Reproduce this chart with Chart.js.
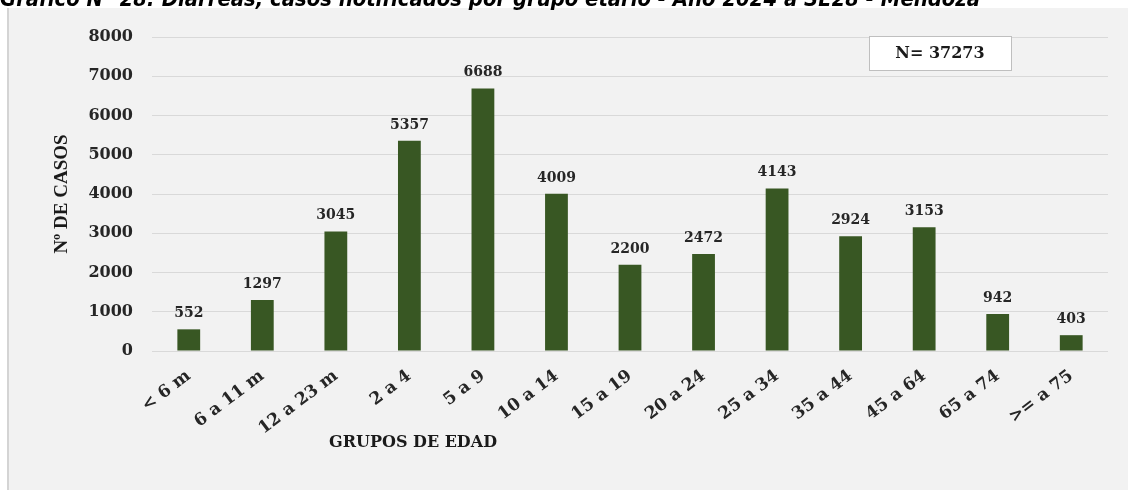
<!DOCTYPE html>
<html>
<head>
<meta charset="utf-8">
<script src="https://cdn.jsdelivr.net/npm/chart.js@4/dist/chart.umd.min.js"></script>
<style>
html,body{margin:0;padding:0;background:#ffffff;}
#wrap{position:relative;width:1128px;height:490px;}
canvas{display:block;}
</style>
</head>
<body>
<div id="wrap"><canvas id="c" width="1128" height="490"></canvas></div>
<script>
const titleText = 'Gráfico N° 28: Diarreas, casos notificados por grupo etario - Año 2024 a SE28 - Mendoza';
const categories = ['< 6 m','6 a 11 m','12 a 23 m','2 a 4','5 a 9','10 a 14','15 a 19','20 a 24','25 a 34','35 a 44','45 a 64','65 a 74','>= a 75'];
const casos = [552,1297,3045,5357,6688,4009,2200,2472,4143,2924,3153,942,403];
const yMin = 0, yMax = 8000, yStep = 1000;
const yTitle = 'Nº DE CASOS';
const xTitle = 'GRUPOS DE EDAD';
const totalLabel = 'N= 37273';

const SERIF = "'DejaVu Serif', 'Liberation Serif', serif";

const decor = {
  id: 'decor',
  beforeDraw(chart) {
    const ctx = chart.ctx;
    ctx.save();
    ctx.fillStyle = '#ffffff';
    ctx.fillRect(0, 0, chart.width, chart.height);
    ctx.fillStyle = '#f2f2f2';
    ctx.fillRect(7, 8, chart.width - 7, chart.height - 8);
    ctx.fillStyle = '#d4d4d4';
    ctx.fillRect(7, 8, 2, chart.height - 8);
    ctx.font = "bold italic 21px 'Liberation Sans Narrow', 'DejaVu Sans Condensed', 'Liberation Sans', sans-serif";
    const w = ctx.measureText(titleText).width;
    const target = 980;
    ctx.translate(0, 6);
    ctx.scale(target / w, 1);
    ctx.fillStyle = '#000000';
    ctx.textBaseline = 'alphabetic';
    ctx.textAlign = 'left';
    ctx.fillText(titleText, 0, 0);
    ctx.restore();
  },
  afterDraw(chart) {
    const ctx = chart.ctx;
    ctx.save();
    const meta = chart.getDatasetMeta(0);
    ctx.font = "bold 14px " + SERIF;
    ctx.fillStyle = '#262626';
    ctx.textAlign = 'center';
    ctx.textBaseline = 'alphabetic';
    meta.data.forEach((bar, i) => {
      ctx.fillText(String(chart.data.datasets[0].data[i]), bar.x, bar.y - 12);
    });
    ctx.font = "bold 16px " + SERIF;
    ctx.fillStyle = '#1a1a1a';
    ctx.textBaseline = 'middle';
    ctx.fillText(xTitle, 413, 443);
    ctx.fillStyle = '#ffffff';
    ctx.fillRect(869, 36, 142, 34);
    ctx.strokeStyle = '#bfbfbf';
    ctx.lineWidth = 1;
    ctx.strokeRect(869.5, 36.5, 142, 34);
    ctx.fillStyle = '#1a1a1a';
    ctx.font = "bold 16px " + SERIF;
    ctx.fillText(totalLabel, 940, 54);
    ctx.restore();
  }
};

new Chart(document.getElementById('c'), {
  type: 'bar',
  data: {
    labels: categories,
    datasets: [{
      data: casos,
      backgroundColor: '#385723',
      borderWidth: 0,
      categoryPercentage: 1.0,
      barPercentage: 0.31
    }]
  },
  options: {
    responsive: false,
    animation: false,
    devicePixelRatio: 1,
    layout: { padding: { top: 37, right: 20, bottom: 0, left: 0 } },
    plugins: { legend: { display: false }, tooltip: { enabled: false }, title: { display: false } },
    scales: {
      x: {
        grid: { display: false },
        border: { display: false },
        ticks: {
          color: '#262626',
          font: { family: SERIF, size: 17, weight: 'bold' },
          minRotation: 37, maxRotation: 37,
          padding: 7,
          autoSkip: false
        },
        afterFit(scale) { scale.height = 139; }
      },
      y: {
        min: yMin, max: yMax,
        grid: { color: '#d9d9d9', drawTicks: false, lineWidth: 1 },
        border: { display: false },
        ticks: {
          stepSize: yStep,
          color: '#262626',
          padding: 19,
          font: { family: SERIF, size: 16, weight: 'bold' },
          callback: (v) => String(v)
        },
        title: {
          display: true,
          text: yTitle,
          color: '#1a1a1a',
          font: { family: "'Liberation Serif', serif", size: 19, weight: 'bold' },
          padding: { top: 51, bottom: 0 }
        },
        afterFit(scale) { scale.width = 152; }
      }
    }
  },
  plugins: [decor]
});
</script>
</body>
</html>
